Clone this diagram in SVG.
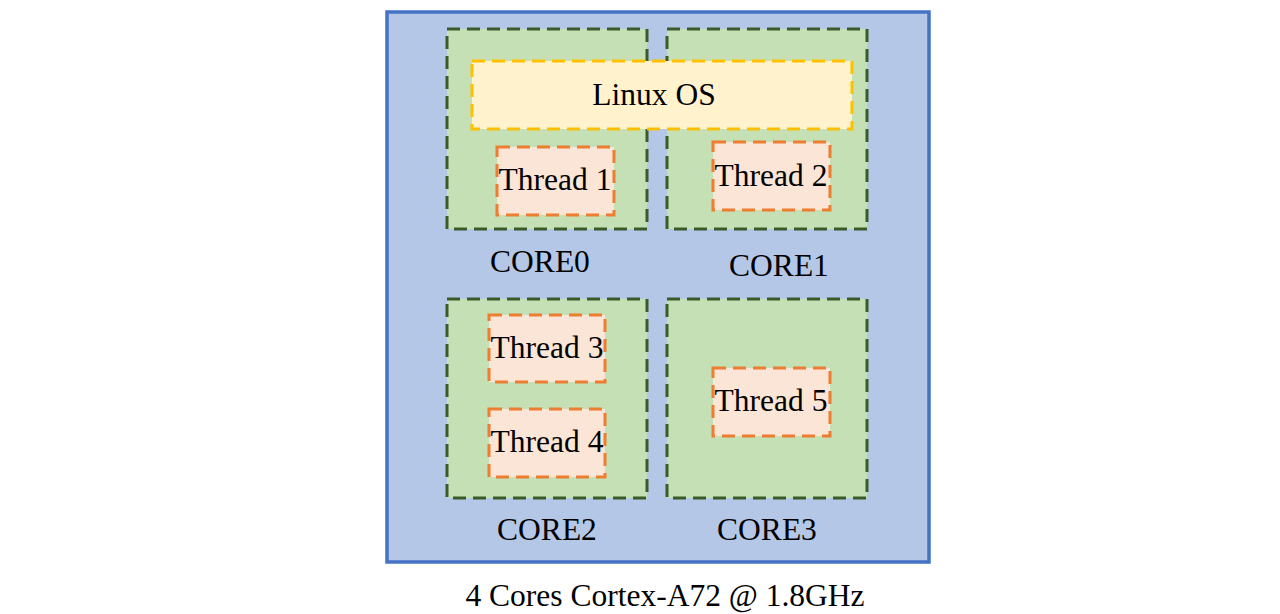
<svg xmlns="http://www.w3.org/2000/svg" width="1280" height="614" viewBox="0 0 1280 614">
<style>
.core{fill:#C5E0B4;stroke:#3A5A28;stroke-width:3;stroke-dasharray:13 7}
.thr{fill:#FBE5D6;stroke:#ED7D31;stroke-width:3;stroke-dasharray:13 7}
.os{fill:#FFF2CC;stroke:#FFC000;stroke-width:3;stroke-dasharray:13 7}
text{font-family:"Liberation Serif","Times New Roman",serif;font-size:31.5px;fill:#000;text-anchor:middle}
</style>
<rect width="1280" height="614" fill="#FFFFFF"/>
<g id="chip">
<rect x="387" y="12" width="542" height="550" fill="#B4C7E7" stroke="#4472C4" stroke-width="3.5"/>
<text x="665" y="606">4 Cores Cortex-A72 @ 1.8GHz</text>
</g>
<g id="core0">
<rect class="core" x="447" y="29" width="200" height="200"/>
<text x="540" y="272">CORE0</text>
</g>
<g id="core1">
<rect class="core" x="667" y="29" width="200" height="200"/>
<text x="779" y="276">CORE1</text>
</g>
<g id="core2">
<rect class="core" x="447" y="299" width="200" height="199"/>
<text x="547" y="540">CORE2</text>
</g>
<g id="core3">
<rect class="core" x="667" y="299" width="200" height="199"/>
<text x="767" y="540">CORE3</text>
</g>
<g id="linux">
<rect class="os" x="472" y="61" width="380" height="68"/>
<text x="654" y="105">Linux OS</text>
</g>
<g id="thread1">
<rect class="thr" x="497" y="147" width="117" height="68"/>
<text x="555" y="190">Thread 1</text>
</g>
<g id="thread2">
<rect class="thr" x="713" y="142" width="117" height="68"/>
<text x="771" y="186">Thread 2</text>
</g>
<g id="thread3">
<rect class="thr" x="489" y="315" width="116" height="67"/>
<text x="547" y="358">Thread 3</text>
</g>
<g id="thread4">
<rect class="thr" x="489" y="409" width="116" height="68"/>
<text x="547" y="452">Thread 4</text>
</g>
<g id="thread5">
<rect class="thr" x="713" y="368" width="117" height="68"/>
<text x="771" y="411">Thread 5</text>
</g>
<g id="connectors"></g>
</svg>
